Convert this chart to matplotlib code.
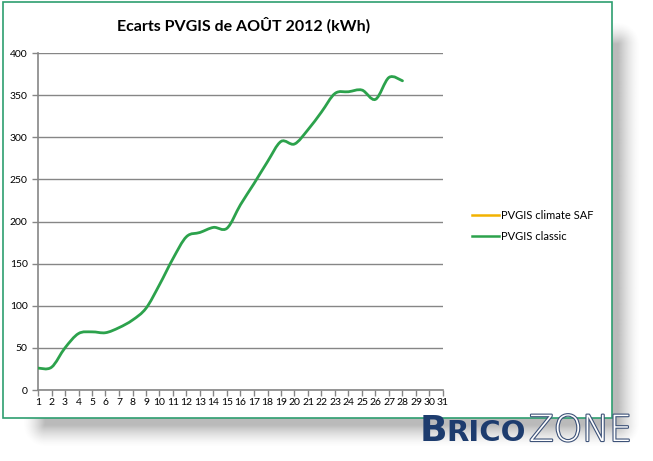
import numpy as np
from matplotlib import pyplot as plt
from matplotlib.path import Path
from matplotlib.patches import PathPatch, Rectangle
from matplotlib.lines import Line2D
import matplotlib.patheffects as pe

plt.rcParams['font.family'] = ['Lato', 'DejaVu Sans']

days = np.arange(1, 29)
classic = np.array([26, 27, 50, 67, 69, 68, 74, 83, 97, 125, 156, 182, 187, 193,
                    192, 220, 245, 271, 295, 292, 309, 330, 352, 354, 356, 345,
                    371, 367])
saf = []   # climate SAF series is empty in the chart

title = 'Ecarts PVGIS de AOÛT 2012 (kWh)'
names = ['PVGIS climate SAF', 'PVGIS classic']
colors = ['#f2b200', '#2ca24c']

W, H = 653, 461
fig = plt.figure(figsize=(W / 100, H / 100), dpi=100)

# soft drop shadow behind the chart frame
bg = fig.add_axes([0, 0, 1, 1])
bg.set_xlim(0, W)
bg.set_ylim(H, 0)
bg.axis('off')
yy, xx = np.mgrid[0:H, 0:W] + 0.5
dx = np.maximum(np.maximum(45 - xx, xx - 618), 0)
dy = np.maximum(np.maximum(45 - yy, yy - 425), 0)
d = np.hypot(dx, dy)
alpha = np.clip(1 - d / 22, 0, 1) ** 1.5 * 0.45
img = np.zeros((H, W, 4))
img[..., :3] = 0.4
img[..., 3] = alpha
bg.imshow(img, extent=(0, W, H, 0), zorder=0)
bg.add_patch(Rectangle((2.5, 2.5), 609.5, 415.5, facecolor='white',
                       edgecolor='#2e9e70', lw=1.2, zorder=1))

# logo watermark
logo = dict(color='#1d3c6e', fontweight='bold', family='DejaVu Sans', zorder=5)
bg.text(420, 441, 'B', fontsize=26, **logo)
bg.text(446, 441, 'RICO', fontsize=21, **logo)
bg.text(529, 441, 'ZONE', fontsize=26, color='white', family='DejaVu Sans',
        fontweight='light', zorder=5,
        path_effects=[pe.withStroke(linewidth=1.6, foreground='#3d5278')])

ax = fig.add_axes([38 / W, 1 - 390 / H, 405 / W, 337 / H])
ax.set_xlim(1, 31)
ax.set_ylim(0, 400)
ax.set_xticks(np.arange(1, 32))
ax.set_yticks(np.arange(0, 401, 50))
ax.tick_params(labelsize=7.5, colors='#868686', labelcolor='black',
               length=4, width=1)
ax.tick_params(axis='x', pad=2)
ax.grid(axis='y', color='#868686', lw=1)
ax.set_axisbelow(True)
for s in ['top', 'right']:
    ax.spines[s].set_visible(False)
for s in ['left', 'bottom']:
    ax.spines[s].set_color('#868686')
    ax.spines[s].set_linewidth(1.2)

# smoothed line (Catmull-Rom as cubic Bezier through the data points)
pts = np.column_stack([days, classic]).astype(float)
ext = np.vstack([pts[0], pts, pts[-1]])
verts = [pts[0]]
codes = [Path.MOVETO]
for i in range(1, len(ext) - 2):
    p0, p1, p2, p3 = ext[i - 1], ext[i], ext[i + 1], ext[i + 2]
    verts += [p1 + (p2 - p0) / 6, p2 - (p3 - p1) / 6, p2]
    codes += [Path.CURVE4] * 3
ax.add_patch(PathPatch(Path(verts, codes), facecolor='none',
                       edgecolor=colors[1], lw=2.0, capstyle='round', zorder=3))
ax.plot(saf, saf, color=colors[0])

handles = [Line2D([], [], color=c, lw=1.8) for c in colors]
fig.legend(handles, names, loc='upper left', bbox_to_anchor=(462 / W, 1 - 200 / H),
           frameon=False, fontsize=8, handlelength=2.4, handletextpad=0.2,
           labelspacing=0.9)

fig.text(244 / W, 1 - 25 / H, title, ha='center', va='center',
         fontsize=11.5, fontweight='bold')

fig.savefig('out.png', dpi=100)
